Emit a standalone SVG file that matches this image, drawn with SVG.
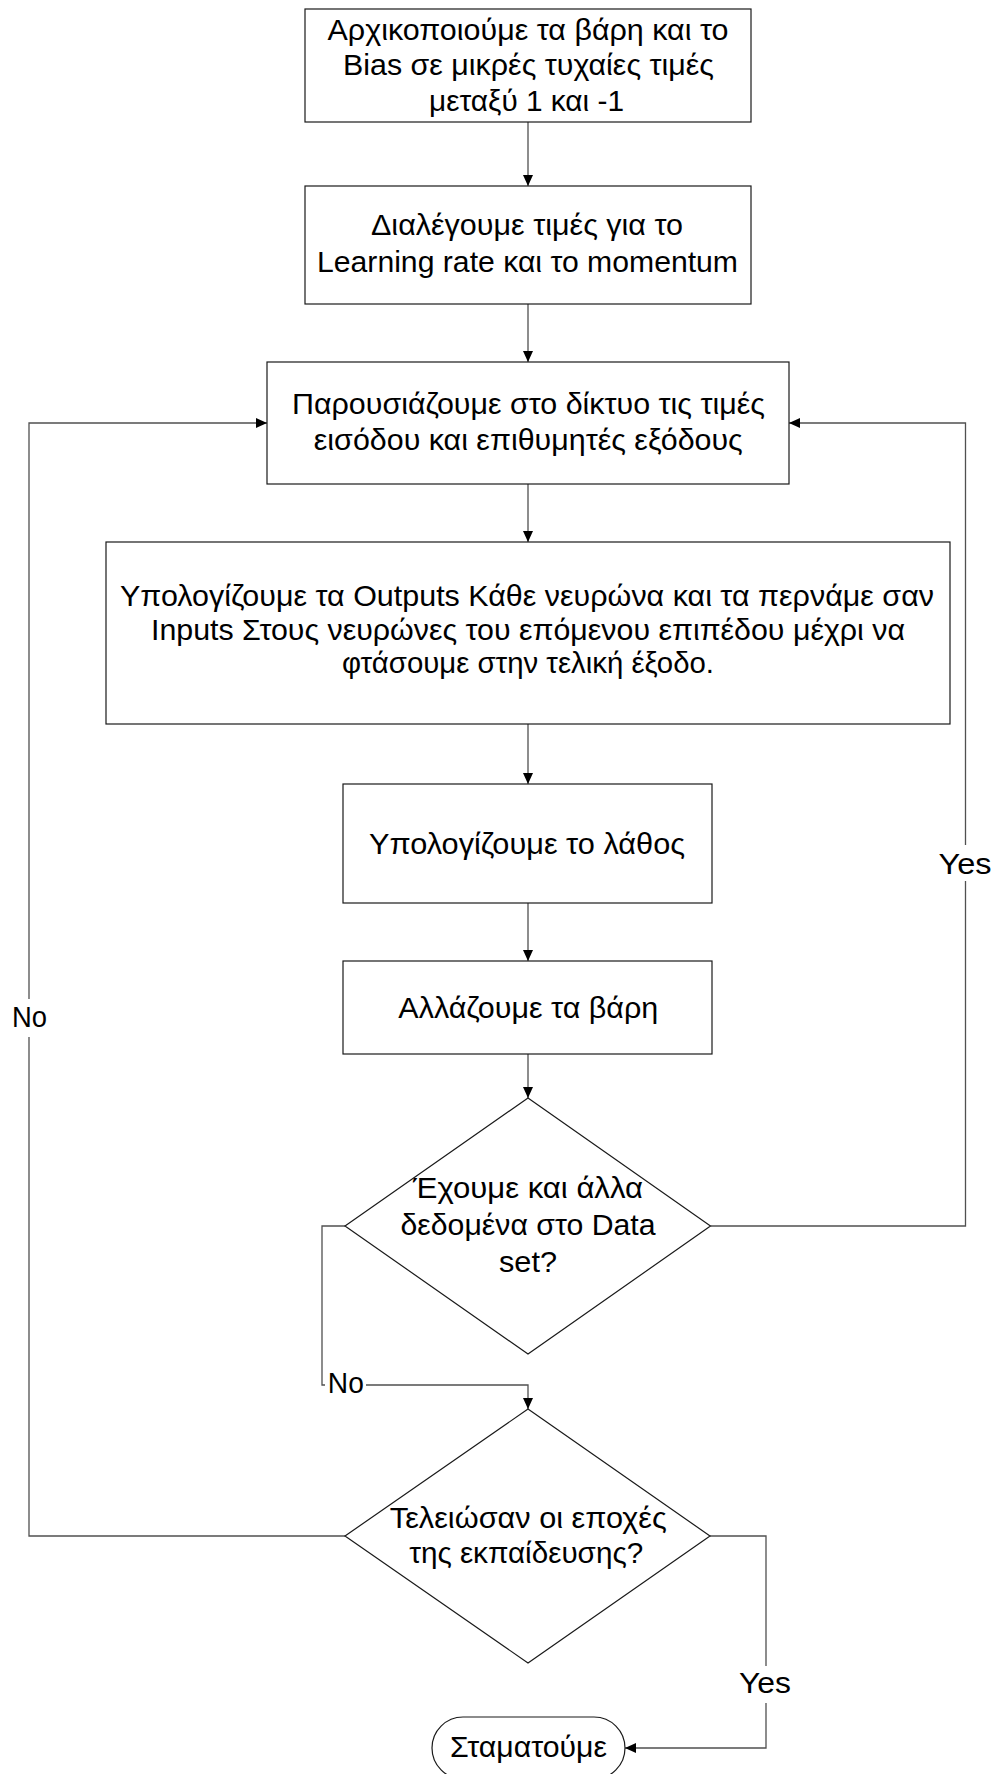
<svg xmlns="http://www.w3.org/2000/svg" width="996" height="1774" viewBox="0 0 996 1774">
  <style>
    .box { fill: #ffffff; stroke: #1a1a1a; stroke-width: 1.2; }
    .edge { fill: none; stroke: #505050; stroke-width: 1.3; }
    .t { font-family: "Liberation Sans", Arial, sans-serif; font-size: 29px; fill: #000; text-anchor: middle; }
    .lbl { font-family: "Liberation Sans", Arial, sans-serif; font-size: 29px; fill: #000; text-anchor: middle; }
    .bg { fill: #ffffff; stroke: none; }
  </style>
  <defs>
    <marker id="arrow" markerUnits="userSpaceOnUse" markerWidth="12" markerHeight="11" refX="11" refY="5" orient="auto">
      <path d="M0,0 L11,5 L0,10 Z" fill="#000"/>
    </marker>
  </defs>

  <rect width="996" height="1774" fill="#ffffff"/>

  <!-- connectors -->
  <g id="connectors">
    <path class="edge" d="M528,122 V186" marker-end="url(#arrow)"/>
    <path class="edge" d="M528,304 V362" marker-end="url(#arrow)"/>
    <path class="edge" d="M528,484 V542" marker-end="url(#arrow)"/>
    <path class="edge" d="M528,724 V784" marker-end="url(#arrow)"/>
    <path class="edge" d="M528,903 V961" marker-end="url(#arrow)"/>
    <path class="edge" d="M528,1054 V1098" marker-end="url(#arrow)"/>
    <!-- more data? no -> epochs check -->
    <path class="edge" d="M345,1226 H322 V1385 H528 V1409" marker-end="url(#arrow)"/>
    <!-- more data? yes -> present next sample -->
    <path class="edge" d="M710.5,1226 H965.5 V423 H789" marker-end="url(#arrow)"/>
    <!-- epochs finished? no -> next epoch -->
    <path class="edge" d="M345,1536 H29 V423 H267" marker-end="url(#arrow)"/>
    <!-- epochs finished? yes -> stop -->
    <path class="edge" d="M710,1536 H766 V1748 H625" marker-end="url(#arrow)"/>

    <rect class="bg" x="8" y="999" width="42" height="38"/>
    <text class="lbl" x="29.5" y="1027" textLength="35" lengthAdjust="spacingAndGlyphs">No</text>
    <rect class="bg" x="325" y="1370" width="41" height="28"/>
    <text class="lbl" x="345.8" y="1393" textLength="36" lengthAdjust="spacingAndGlyphs">No</text>
    <rect class="bg" x="936" y="845" width="59" height="36"/>
    <text class="lbl" x="965" y="874" textLength="53" lengthAdjust="spacingAndGlyphs">Yes</text>
    <rect class="bg" x="736" y="1666" width="58" height="37"/>
    <text class="lbl" x="765" y="1693" textLength="52" lengthAdjust="spacingAndGlyphs">Yes</text>
  </g>

  <g id="init">
    <rect class="box" x="305" y="9" width="446" height="113"/>
    <text class="t" x="528" y="40" textLength="401" lengthAdjust="spacingAndGlyphs">Αρχικοποιούμε τα βάρη και το</text>
    <text class="t" x="528.5" y="75" textLength="371" lengthAdjust="spacingAndGlyphs">Bias σε μικρές τυχαίες τιμές</text>
    <text class="t" x="526.5" y="110.5" textLength="195" lengthAdjust="spacingAndGlyphs">μεταξύ 1 και -1</text>
  </g>

  <g id="params">
    <rect class="box" x="305" y="186" width="446" height="118"/>
    <text class="t" x="527" y="235" textLength="312" lengthAdjust="spacingAndGlyphs">Διαλέγουμε τιμές για το</text>
    <text class="t" x="527.5" y="271.5" textLength="421" lengthAdjust="spacingAndGlyphs">Learning rate και το momentum</text>
  </g>

  <g id="present">
    <rect class="box" x="267" y="362" width="522" height="122"/>
    <text class="t" x="528.5" y="414" textLength="473" lengthAdjust="spacingAndGlyphs">Παρουσιάζουμε στο δίκτυο τις τιμές</text>
    <text class="t" x="528.3" y="450" textLength="429" lengthAdjust="spacingAndGlyphs">εισόδου και επιθυμητές εξόδους</text>
  </g>

  <g id="forward">
    <rect class="box" x="106" y="542" width="844" height="182"/>
    <text class="t" x="527" y="606" textLength="814" lengthAdjust="spacingAndGlyphs">Υπολογίζουμε τα Outputs Κάθε νευρώνα και τα περνάμε σαν</text>
    <text class="t" x="528" y="639.5" textLength="754" lengthAdjust="spacingAndGlyphs">Inputs Στους νευρώνες του επόμενου επιπέδου μέχρι να</text>
    <text class="t" x="528" y="673" textLength="372" lengthAdjust="spacingAndGlyphs">φτάσουμε στην τελική έξοδο.</text>
  </g>

  <g id="error">
    <rect class="box" x="343" y="784" width="369" height="119"/>
    <text class="t" x="527" y="854" textLength="316" lengthAdjust="spacingAndGlyphs">Υπολογίζουμε το λάθος</text>
  </g>

  <g id="update">
    <rect class="box" x="343" y="961" width="369" height="93"/>
    <text class="t" x="528.3" y="1018" textLength="260" lengthAdjust="spacingAndGlyphs">Αλλάζουμε τα βάρη</text>
  </g>

  <g id="more-data">
    <polygon class="box" points="528,1098 710.5,1226 528,1354 345,1226"/>
    <text class="lbl" x="528" y="1198" textLength="230" lengthAdjust="spacingAndGlyphs">Έχουμε και άλλα</text>
    <text class="lbl" x="528" y="1235" textLength="255" lengthAdjust="spacingAndGlyphs">δεδομένα στο Data</text>
    <text class="lbl" x="528" y="1272" textLength="58" lengthAdjust="spacingAndGlyphs">set?</text>
  </g>

  <g id="epochs-done">
    <polygon class="box" points="528,1409 710,1536 528,1663 345,1536"/>
    <text class="t" x="528.3" y="1528" textLength="277" lengthAdjust="spacingAndGlyphs">Τελειώσαν οι εποχές</text>
    <text class="t" x="526.2" y="1563" textLength="234" lengthAdjust="spacingAndGlyphs">της εκπαίδευσης?</text>
  </g>

  <g id="stop">
    <rect class="box" x="432" y="1717" width="193" height="62" rx="31" ry="31"/>
    <text class="t" x="528.5" y="1757" textLength="157" lengthAdjust="spacingAndGlyphs">Σταματούμε</text>
  </g>
</svg>
